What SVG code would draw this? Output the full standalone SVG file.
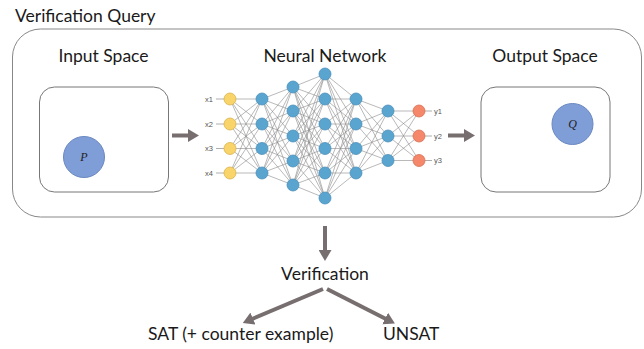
<svg xmlns="http://www.w3.org/2000/svg" width="644" height="349" viewBox="0 0 644 349">
<style>
.t{font-family:Lato,"Liberation Sans",sans-serif;font-size:17.5px;fill:#1a1a1a}
.s{font-family:"Liberation Sans",Arial,sans-serif;font-size:7.5px;fill:#555}
.m{font-family:"Liberation Serif","Times New Roman",serif;font-style:italic;font-size:12px;fill:#222}
.box{fill:#fff;stroke:#777;stroke-width:1}
.set{fill:#7f9dd6;stroke:#6a88c2;stroke-width:1}
.e{fill:none;stroke:#8a8a8a;stroke-width:0.6}
.stub{stroke:#999;stroke-width:0.8}
.arr{stroke:#776f6f;stroke-width:4;fill:none}
.ah{fill:#776f6f}
.ny{fill:#f8d46a;stroke:#d9b24c;stroke-width:0.8}
.nb{fill:#5aa4d0;stroke:#4a8fba;stroke-width:0.8}
.no{fill:#f5886a;stroke:#d86f53;stroke-width:0.8}
</style>
<defs>
<marker id="head" markerUnits="userSpaceOnUse" markerWidth="12" markerHeight="13" refX="1" refY="6.5" orient="auto">
<path class="ah" d="M0 0L11 6.5L0 13Z"/>
</marker>
</defs>

<g id="verification-query">
<rect x="12.5" y="29" width="629" height="188" rx="28" ry="28" fill="#fff" stroke="#888" stroke-width="1"/>
<text class="t" x="15" y="22">Verification Query</text>
</g>

<g id="input-space">
<text class="t" x="103.5" y="62" text-anchor="middle">Input Space</text>
<rect class="box" x="39.5" y="87" width="129" height="105" rx="15"/>
<circle class="set" cx="84" cy="157" r="20.5"/>
<text class="m" x="84" y="161" text-anchor="middle">P</text>
</g>

<g id="output-space">
<text class="t" x="545" y="62" text-anchor="middle">Output Space</text>
<rect class="box" x="481" y="87" width="129" height="105" rx="15"/>
<circle class="set" cx="572.5" cy="124" r="20.5"/>
<text class="m" x="572.5" y="128" text-anchor="middle">Q</text>
</g>

<g id="neural-network">
<text class="t" x="325" y="62" text-anchor="middle">Neural Network</text>
<g id="nn-edges">
<path class="e" d="M230 99L262 99M230 99L262 124M230 99L262 148.5M230 99L262 173M230 124L262 99M230 124L262 124M230 124L262 148.5M230 124L262 173M230 148.5L262 99M230 148.5L262 124M230 148.5L262 148.5M230 148.5L262 173M230 173L262 99M230 173L262 124M230 173L262 148.5M230 173L262 173"/>
<path class="e" d="M262 99L293 87M262 99L293 111M262 99L293 136M262 99L293 161M262 99L293 185M262 124L293 87M262 124L293 111M262 124L293 136M262 124L293 161M262 124L293 185M262 148.5L293 87M262 148.5L293 111M262 148.5L293 136M262 148.5L293 161M262 148.5L293 185M262 173L293 87M262 173L293 111M262 173L293 136M262 173L293 161M262 173L293 185"/>
<path class="e" d="M293 87L325 74M293 87L325 99M293 87L325 124M293 87L325 148.5M293 87L325 173M293 87L325 198M293 111L325 74M293 111L325 99M293 111L325 124M293 111L325 148.5M293 111L325 173M293 111L325 198M293 136L325 74M293 136L325 99M293 136L325 124M293 136L325 148.5M293 136L325 173M293 136L325 198M293 161L325 74M293 161L325 99M293 161L325 124M293 161L325 148.5M293 161L325 173M293 161L325 198M293 185L325 74M293 185L325 99M293 185L325 124M293 185L325 148.5M293 185L325 173M293 185L325 198"/>
<path class="e" d="M325 74L356 99M325 74L356 124M325 74L356 148.5M325 74L356 173M325 99L356 99M325 99L356 124M325 99L356 148.5M325 99L356 173M325 124L356 99M325 124L356 124M325 124L356 148.5M325 124L356 173M325 148.5L356 99M325 148.5L356 124M325 148.5L356 148.5M325 148.5L356 173M325 173L356 99M325 173L356 124M325 173L356 148.5M325 173L356 173M325 198L356 99M325 198L356 124M325 198L356 148.5M325 198L356 173"/>
<path class="e" d="M356 99L388 111M356 99L388 136M356 99L388 160.5M356 124L388 111M356 124L388 136M356 124L388 160.5M356 148.5L388 111M356 148.5L388 136M356 148.5L388 160.5M356 173L388 111M356 173L388 136M356 173L388 160.5"/>
<path class="e" d="M388 111L419 111M388 111L419 136M388 111L419 160.5M388 136L419 111M388 136L419 136M388 136L419 160.5M388 160.5L419 111M388 160.5L419 136M388 160.5L419 160.5"/>
<path class="stub" d="M216 99H224M216 124H224M216 148.5H224M216 173H224M425 111H432M425 136H432M425 160.5H432"/>
</g>
<g id="nn-inputs">
<text class="s" x="213" y="101.7" text-anchor="end">x1</text>
<text class="s" x="213" y="126.7" text-anchor="end">x2</text>
<text class="s" x="213" y="151.2" text-anchor="end">x3</text>
<text class="s" x="213" y="175.7" text-anchor="end">x4</text>
<circle class="ny" cx="230" cy="99" r="6"/>
<circle class="ny" cx="230" cy="124" r="6"/>
<circle class="ny" cx="230" cy="148.5" r="6"/>
<circle class="ny" cx="230" cy="173" r="6"/>
</g>
<g id="nn-hidden">
<circle class="nb" cx="262" cy="99" r="6"/>
<circle class="nb" cx="262" cy="124" r="6"/>
<circle class="nb" cx="262" cy="148.5" r="6"/>
<circle class="nb" cx="262" cy="173" r="6"/>
<circle class="nb" cx="293" cy="87" r="6"/>
<circle class="nb" cx="293" cy="111" r="6"/>
<circle class="nb" cx="293" cy="136" r="6"/>
<circle class="nb" cx="293" cy="161" r="6"/>
<circle class="nb" cx="293" cy="185" r="6"/>
<circle class="nb" cx="325" cy="74" r="6"/>
<circle class="nb" cx="325" cy="99" r="6"/>
<circle class="nb" cx="325" cy="124" r="6"/>
<circle class="nb" cx="325" cy="148.5" r="6"/>
<circle class="nb" cx="325" cy="173" r="6"/>
<circle class="nb" cx="325" cy="198" r="6"/>
<circle class="nb" cx="356" cy="99" r="6"/>
<circle class="nb" cx="356" cy="124" r="6"/>
<circle class="nb" cx="356" cy="148.5" r="6"/>
<circle class="nb" cx="356" cy="173" r="6"/>
<circle class="nb" cx="388" cy="111" r="6"/>
<circle class="nb" cx="388" cy="136" r="6"/>
<circle class="nb" cx="388" cy="160.5" r="6"/>
</g>
<g id="nn-outputs">
<circle class="no" cx="419" cy="111" r="6"/>
<circle class="no" cx="419" cy="136" r="6"/>
<circle class="no" cx="419" cy="160.5" r="6"/>
<text class="s" x="434" y="113.7">y1</text>
<text class="s" x="434" y="138.7">y2</text>
<text class="s" x="434" y="163.2">y3</text>
</g>
</g>

<g id="verification">
<text class="t" x="325" y="280" text-anchor="middle">Verification</text>
</g>
<g id="sat">
<text class="t" x="148" y="340">SAT (+ counter example)</text>
</g>
<g id="unsat">
<text class="t" x="383" y="340">UNSAT</text>
</g>

<g id="connectors">
<line class="arr" x1="172" y1="135.5" x2="189" y2="135.5" marker-end="url(#head)"/>
<line class="arr" x1="448" y1="135.5" x2="465" y2="135.5" marker-end="url(#head)"/>
<line class="arr" x1="325" y1="226" x2="325" y2="251" marker-end="url(#head)"/>
<line class="arr" x1="323" y1="289" x2="252" y2="319" marker-end="url(#head)"/>
<line class="arr" x1="327" y1="289" x2="386" y2="319" marker-end="url(#head)"/>
</g>
</svg>
